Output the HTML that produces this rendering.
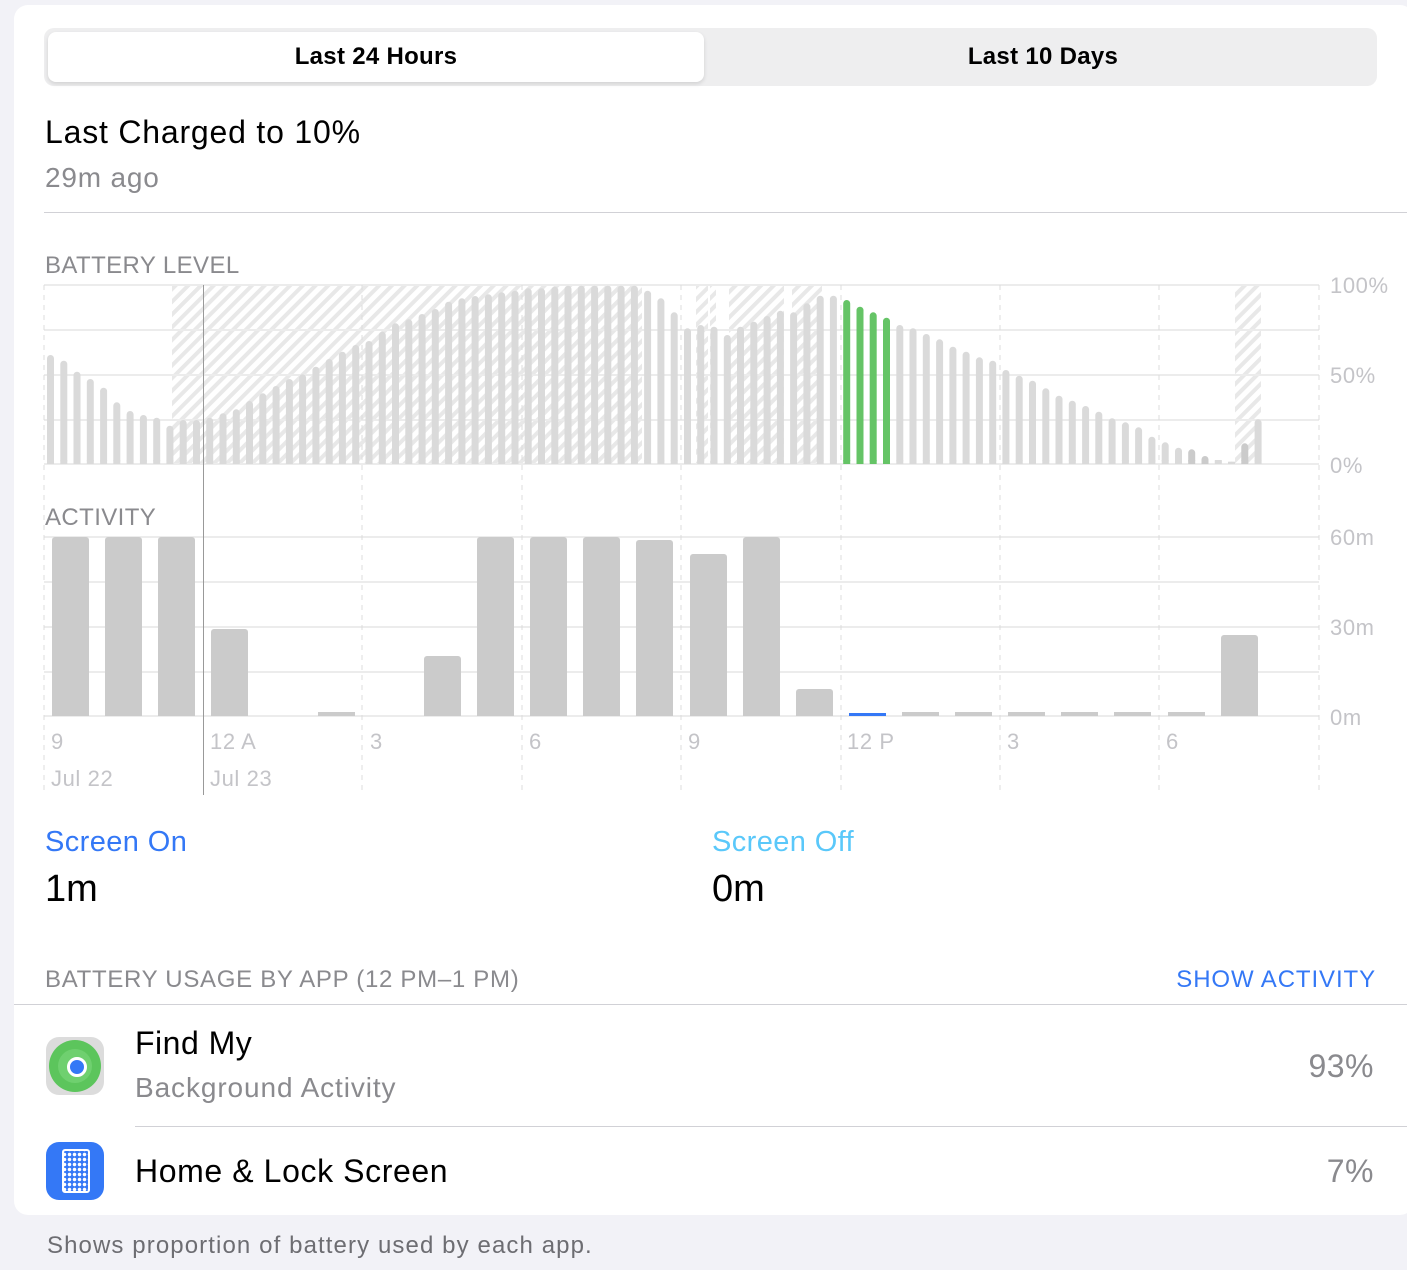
<!DOCTYPE html>
<html><head><meta charset="utf-8"><style>
body{margin:0;width:1407px;height:1270px;background:#f2f2f7;font-family:"Liberation Sans",sans-serif;position:relative;overflow:hidden}
.card{position:absolute;left:14px;top:5px;width:1400px;height:1210px;background:#fff;border-radius:14px}
.t{position:absolute;white-space:nowrap}
</style></head><body>
<div class="card"></div>
<div style="position:absolute;left:44px;top:28px;width:1333px;height:58px;background:#eeeeef;border-radius:10px"></div>
<div style="position:absolute;left:48px;top:32px;width:656px;height:50px;background:#fff;border-radius:8px;box-shadow:0 2px 4px rgba(0,0,0,.12)"></div>
<div class="t" style="left:48px;width:656px;text-align:center;top:43px;font-size:24px;font-weight:bold;color:#000;letter-spacing:0.3px">Last 24 Hours</div>
<div class="t" style="left:710px;width:666px;text-align:center;top:43px;font-size:24px;font-weight:bold;color:#000;letter-spacing:0.3px">Last 10 Days</div>
<div class="t" style="left:45px;top:114px;font-size:32px;color:#000;letter-spacing:0.8px">Last Charged to 10%</div>
<div class="t" style="left:45px;top:162px;font-size:28px;color:#8a8a8e;letter-spacing:0.8px">29m ago</div>
<div style="position:absolute;left:44px;top:212px;width:1363px;height:1px;background:#d1d1d6"></div>
<div class="t" style="left:45px;top:252px;font-size:24px;color:#8a8a8e;letter-spacing:0.4px">BATTERY LEVEL</div>
<div class="t" style="left:45px;top:504px;font-size:24px;color:#8a8a8e;letter-spacing:0.4px">ACTIVITY</div>
<svg id="ch" style="position:absolute;left:0;top:0" width="1407" height="820" xmlns="http://www.w3.org/2000/svg">
<defs><pattern id="h" patternUnits="userSpaceOnUse" width="9" height="9" patternTransform="rotate(45)"><rect width="9" height="9" fill="#fff"/><rect width="4" height="9" fill="#e8e8e8"/></pattern></defs>
<g id="g"></g>
<g font-family="Liberation Sans" font-size="22" fill="#c4c4c8" letter-spacing="0.6">
<text x="1330" y="293">100%</text><text x="1330" y="383">50%</text><text x="1330" y="473">0%</text>
<text x="1330" y="545">60m</text><text x="1330" y="635">30m</text><text x="1330" y="725">0m</text>
<text x="51" y="749">9</text><text x="210" y="749">12 A</text><text x="370" y="749">3</text><text x="529" y="749">6</text><text x="688" y="749">9</text><text x="847" y="749">12 P</text><text x="1007" y="749">3</text><text x="1166" y="749">6</text>
<text x="51" y="786">Jul 22</text><text x="210" y="786">Jul 23</text>
</g>
</svg>
<script>
var g=document.getElementById('g'),s='';
function R(x,y,w,h,f,ex){s+='<rect x="'+x+'" y="'+y+'" width="'+w+'" height="'+h+'" fill="'+f+'" '+(ex||'')+'/>';}
[[172,642],[696,708],[710,716],[729,784],[792,822],[1235,1261]].forEach(function(a){R(a[0],285,a[1]-a[0],179,'url(#h)');});
[285,330,375,420,464,537,582,627,672,716].forEach(function(y){R(44,y-1,1275,2,'#ececec');});
[44,362,522,681,841,1000,1159,1319].forEach(function(x){s+='<line x1="'+x+'" y1="285" x2="'+x+'" y2="795" stroke="#dcdcdc" stroke-dasharray="5,5"/>';});
s+='<line x1="203.5" y1="285" x2="203.5" y2="795" stroke="#999"/>';
var z=[225,242,275,297,323,367,393,405,413,437,420,420,413,400,388,363,340,318,297,283,260,237,215,195,183,155,130,118,102,87,65,55,48,43,37,32,25,25,20,17,17,17,17,17,17,32,55,97,145,135,140,165,140,125,108,92,97,70,47,47,60,80,97,113,135,145,162,178,200,215,232,242,270,287,302,325,347,362,378,395,415,427,442,470,487,503,508,528,540,545,490,418];
z.forEach(function(v,i){var h=184-v/3,x=50.5+i*13.27-3.5;var c=(i>=60&&i<=63)?'#65c466':((i>=86&&i<=90&&i!=88&&i!=89)?'#cbcbcb':'#dadada');R(x.toFixed(1),(464-h).toFixed(1),7,h.toFixed(1),c,'rx="3.5"');R(x.toFixed(1),(464-Math.min(h,4)).toFixed(1),7,Math.min(h,4),c);});
var act=[[52,537],[105,537],[158,537],[211,629],[318,713],[424,656],[477,537],[530,537],[583,537],[636,540],[690,554],[743,537],[796,689],[902,713],[955,713],[1008,713],[1061,713],[1114,713],[1168,713],[1221,635]];
act.forEach(function(a){R(a[0],a[1],37,716-a[1],'#cbcbcb','rx="3"');R(a[0],712,37,4,'#cbcbcb');});
R(849,713,37,3,'#3478f6');
g.innerHTML=s;
</script>
<div class="t" style="left:45px;top:826px;font-size:29px;color:#3478f6;letter-spacing:0.4px">Screen On</div>
<div class="t" style="left:45px;top:868px;font-size:38px;color:#000">1m</div>
<div class="t" style="left:712px;top:826px;font-size:29px;color:#5ac8fa;letter-spacing:0.4px">Screen Off</div>
<div class="t" style="left:712px;top:868px;font-size:38px;color:#000">0m</div>
<div class="t" style="left:45px;top:966px;font-size:24px;color:#8a8a8e;letter-spacing:0.7px">BATTERY USAGE BY APP (12 PM–1 PM)</div>
<div class="t" style="right:31px;top:966px;font-size:24px;color:#3478f6;letter-spacing:0.9px">SHOW ACTIVITY</div>
<div style="position:absolute;left:14px;top:1004px;width:1393px;height:1px;background:#d1d1d6"></div>
<div style="position:absolute;left:46px;top:1037px;width:58px;height:58px;border-radius:13px;background:#dcdcdc;overflow:hidden">
<div style="position:absolute;left:3px;top:3px;width:52px;height:52px;border-radius:50%;background:#5cc55c"></div>
<div style="position:absolute;left:12px;top:12px;width:34px;height:34px;border-radius:50%;background:#6fd06f"></div>
<div style="position:absolute;left:21px;top:20px;width:14px;height:14px;border-radius:50%;background:#3478f6;border:3px solid #fff"></div></div>
<div class="t" style="left:135px;top:1025px;font-size:32px;color:#000;letter-spacing:0.5px">Find My</div>
<div class="t" style="left:135px;top:1072px;font-size:28px;color:#8a8a8e;letter-spacing:0.9px">Background Activity</div>
<div class="t" style="right:33px;top:1048px;font-size:32px;color:#8a8a8e;letter-spacing:0.5px">93%</div>
<div style="position:absolute;left:135px;top:1126px;width:1272px;height:1px;background:#d1d1d6"></div>
<div style="position:absolute;left:46px;top:1142px;width:58px;height:58px;border-radius:13px;background:#3478f6">
<div style="position:absolute;left:16px;top:7px;width:24px;height:40px;border:2px solid #fff;border-radius:3px;background:radial-gradient(circle,#fff 1.5px,transparent 2px) 3px 6px/5px 5px"></div></div>
<div class="t" style="left:135px;top:1153px;font-size:32px;color:#000;letter-spacing:0.6px">Home &amp; Lock Screen</div>
<div class="t" style="right:33px;top:1153px;font-size:32px;color:#8a8a8e;letter-spacing:0.5px">7%</div>
<div class="t" style="left:47px;top:1232px;font-size:24px;color:#6d6d72;letter-spacing:1.1px">Shows proportion of battery used by each app.</div>
</body></html>
